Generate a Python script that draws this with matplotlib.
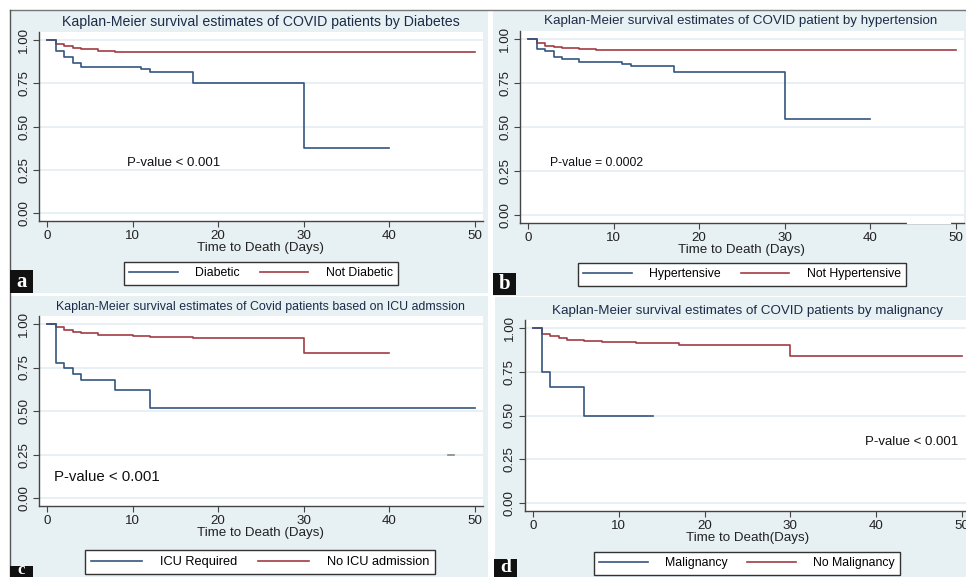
import matplotlib
matplotlib.use("Agg")
import matplotlib.pyplot as plt
from matplotlib.patches import Rectangle

plt.rcParams['font.family'] = ['Liberation Sans', 'DejaVu Sans']

W, H = 966, 577
BLUE = '#34557f'
RED = '#a23b44'
BG = '#e7f0f3'
GRID = '#e4edf1'

# ---- data ----
titles = [
    'Kaplan-Meier survival estimates of COVID patients by Diabetes',
    'Kaplan-Meier survival estimates of COVID patient by hypertension',
    'Kaplan-Meier survival estimates of Covid patients based on ICU admssion',
    'Kaplan-Meier survival estimates of COVID patients by malignancy',
]
xlabels = ['Time to Death (Days)', 'Time to Death (Days)',
           'Time to Death (Days)', 'Time to Death(Days)']
group_labels = [('Diabetic', 'Not Diabetic'),
                ('Hypertensive', 'Not Hypertensive'),
                ('ICU Required', 'No ICU admission'),
                ('Malignancy', 'No Malignancy')]
pvalues = ['P-value < 0.001', 'P-value = 0.0002',
           'P-value < 0.001', 'P-value < 0.001']
panel_letters = ['a', 'b', 'c', 'd']

diab_t = [0, 1, 2, 3, 4, 11, 12, 17, 30, 40]
diab_s = [1, 0.938, 0.9, 0.869, 0.846, 0.831, 0.813, 0.754, 0.377, 0.377]
nodiab_t = [0, 1, 2, 3, 4, 6, 8, 50]
nodiab_s = [1, 0.975, 0.963, 0.952, 0.946, 0.938, 0.931, 0.931]

htn_t = [0, 1, 2, 3, 4, 6, 11, 12, 17, 30, 40]
htn_s = [1, 0.943, 0.932, 0.9, 0.884, 0.871, 0.858, 0.845, 0.8125, 0.544, 0.544]
nohtn_t = [0, 1, 2, 3, 4, 6, 7, 8, 50]
nohtn_s = [1, 0.979, 0.962, 0.956, 0.949, 0.945, 0.941, 0.9375, 0.9375]

icu_t = [0, 1, 2, 3, 4, 8, 12, 50]
icu_s = [1, 0.778, 0.748, 0.715, 0.679, 0.621, 0.518, 0.518]
noicu_t = [0, 1, 2, 3, 4, 6, 8, 10, 12, 17, 30, 40]
noicu_s = [1, 0.981, 0.966, 0.952, 0.946, 0.939, 0.935, 0.931, 0.927, 0.918, 0.834, 0.834]

mal_t = [0, 1, 2, 6, 14]
mal_s = [1, 0.749, 0.665, 0.5, 0.5]
nomal_t = [0, 1, 2, 3, 4, 6, 8, 12, 17, 30, 50]
nomal_s = [1, 0.968, 0.952, 0.941, 0.933, 0.926, 0.92, 0.912, 0.903, 0.838, 0.838]

curves = [((diab_t, diab_s), (nodiab_t, nodiab_s)),
          ((htn_t, htn_s), (nohtn_t, nohtn_s)),
          ((icu_t, icu_s), (noicu_t, noicu_s)),
          ((mal_t, mal_s), (nomal_t, nomal_s))]

# stray dash visible in panel c
dash_x = [46.8, 47.5]
dash_y = [0.25, 0.25]

x_ticks = [0, 10, 20, 30, 40, 50]
y_ticks = [0, 0.25, 0.5, 0.75, 1.0]
y_ticklabels = ['0.00', '0.25', '0.50', '0.75', '1.00']

XLIM = (-0.93, 50.9)
YLIM = (-0.046, 1.046)

# ---- layout in pixels ----
# pixel position of x=0, x=50, y=1, y=0 for each panel
anchors = [(47, 475, 40, 213), (528, 956, 39, 215),
           (47, 475, 324, 498), (533, 962, 328, 503)]
panel_bg = [(10, 10, 488, 293), (493, 10, 966, 296),
            (10, 296, 488, 577), (495, 297, 966, 577)]
title_pos = [(261, 22, 10.2), (741, 21, 9.6), (260, 307, 8.9), (747, 311, 9.6)]
legend_pos = [(261, 273.5), (742, 274.5), (260, 562), (747, 563)]
legend_fs = [8.8, 8.8, 9.2, 8.8]
pval_pos = [(9.3, 0.29, 'left', 9.5), (2.6, 0.295, 'left', 8.8),
            (0.8, 0.12, 'left', 10.8), (49.6, 0.35, 'right', 9.5)]
letter_box = [(10, 270, 33, 293), (493, 273, 516, 295),
              (10, 566, 33, 590), (494, 559, 517, 590)]
letter_y = [282, 284, 570, 567]
letter_fs = [15, 15, 12, 14]


def fx(px):
    return px / W


def fy(py):
    return 1 - py / H


fig = plt.figure(figsize=(W / 100, H / 100), dpi=100)
fig.patch.set_facecolor('white')

for (x0, y0, x1, y1) in panel_bg:
    fig.patches.append(Rectangle((fx(x0), fy(y1)), fx(x1 - x0), (y1 - y0) / H,
                                 transform=fig.transFigure, facecolor=BG,
                                 edgecolor='none', zorder=-10))
# thin grey frame lines on top/left of the composite
fig.add_artist(plt.Line2D([fx(10), fx(966)], [fy(10), fy(10)],
                          transform=fig.transFigure, color='#777777', lw=1))
fig.add_artist(plt.Line2D([fx(10), fx(10)], [fy(10), fy(577)],
                          transform=fig.transFigure, color='#555555', lw=1))

for i in range(4):
    px0, px50, py1, py0 = anchors[i]
    sx = (px50 - px0) / 50.0
    sy = (py0 - py1) / 1.0
    left = px0 + XLIM[0] * sx
    right = px0 + XLIM[1] * sx
    top = py0 - YLIM[1] * sy
    bottom = py0 - YLIM[0] * sy
    ax = fig.add_axes([fx(left), fy(bottom), fx(right - left), (bottom - top) / H])
    ax.set_facecolor('white')
    ax.set_xlim(*XLIM)
    ax.set_ylim(*YLIM)

    for y in y_ticks:
        ax.axhline(y, color=GRID, lw=1.2, zorder=0)

    (t1, s1), (t2, s2) = curves[i]
    lab1, lab2 = group_labels[i]
    h1, = ax.step(t1, s1, where='post', color=BLUE, lw=1.2, label=lab1, zorder=3)
    h2, = ax.step(t2, s2, where='post', color=RED, lw=1.2, label=lab2, zorder=2)

    if i == 2:
        ax.plot(dash_x, dash_y, color='#888888', lw=1.2)

    for side in ['top', 'right']:
        ax.spines[side].set_visible(False)
    for side in ['left', 'bottom']:
        ax.spines[side].set_color('#444444')
        ax.spines[side].set_linewidth(1.0)

    ax.set_xticks(x_ticks)
    ax.set_yticks(y_ticks)
    ax.set_yticklabels(y_ticklabels, rotation=90, va='center')
    ax.tick_params(axis='both', direction='out', length=4, width=0.8,
                   color='#444444', labelsize=9.6, pad=2.5, labelcolor='#222222')
    ax.set_xlabel(xlabels[i], fontsize=9.6, labelpad=0, color='#222222')

    if i == 1:
        # small break in the x-axis line of panel b
        ax.plot([44.4, 49.3], [YLIM[0], YLIM[0]], color='white', lw=1.6,
                clip_on=False, zorder=5)

    px, py, ha, fs = pval_pos[i]
    ax.text(px, py, pvalues[i], ha=ha, va='center', fontsize=fs, color='#111111')

    tx, ty, tfs = title_pos[i]
    fig.text(fx(tx), fy(ty), titles[i], ha='center', va='center',
             fontsize=tfs, color='#1c2c48')

    lx, ly = legend_pos[i]
    leg = fig.legend(handles=[h1, h2], loc='center', ncol=2,
                     bbox_to_anchor=(fx(lx), fy(ly)), fontsize=legend_fs[i],
                     frameon=True, fancybox=False, handlelength=4.0,
                     columnspacing=1.6, handletextpad=1.4, borderpad=0.45,
                     borderaxespad=0)
    leg.get_frame().set_edgecolor('#333333')
    leg.get_frame().set_linewidth(1.0)
    leg.get_frame().set_facecolor('white')
    leg.get_frame().set_alpha(1)

    bx0, by0, bx1, by1 = letter_box[i]
    fig.patches.append(Rectangle((fx(bx0), fy(by1)), fx(bx1 - bx0), (by1 - by0) / H,
                                 transform=fig.transFigure, facecolor='#111111',
                                 edgecolor='none', zorder=5))
    fig.text(fx((bx0 + bx1) / 2), fy(letter_y[i]), panel_letters[i],
             ha='center', va='center', color='white', fontsize=letter_fs[i],
             fontweight='bold', family=['Liberation Serif', 'DejaVu Serif'],
             zorder=6)

fig.savefig('out.png', dpi=100, facecolor='white')
